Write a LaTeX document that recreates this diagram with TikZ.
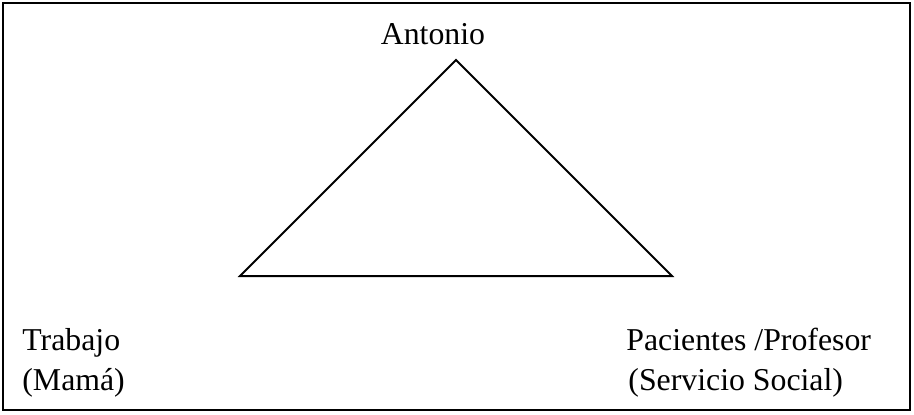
\documentclass[tikz,border=0pt]{standalone}
\usepackage{fontspec}
\setmainfont{Liberation Serif}
\begin{document}
\begin{tikzpicture}[x=0.5pt,y=-0.5pt,
  lbl/.style={inner sep=0pt,anchor=base west,font=\fontsize{15.9pt}{19pt}\selectfont},
  line/.style={draw=black,line width=1pt}]
\useasboundingbox (0,0) rectangle (914,414);
\draw[line] (3,3) rectangle (910,410);
\coordinate (top) at (456,60);
\coordinate (left) at (240,276);
\coordinate (right) at (672,276);
\draw[line,line join=miter] (top) -- (left) -- (right) -- cycle;
\node[lbl,anchor=base] (antonio) at (433,44) {Antonio};
\node[lbl] (trabajo) at (22,350) {Trabajo};
\node[lbl] (mama) at (22,390) {(Mamá)};
\node[lbl] (pac) at (626,350) {Pacientes /Profesor};
\node[lbl] (serv) at (628,390) {(Servicio Social)};
\end{tikzpicture}
\end{document}
